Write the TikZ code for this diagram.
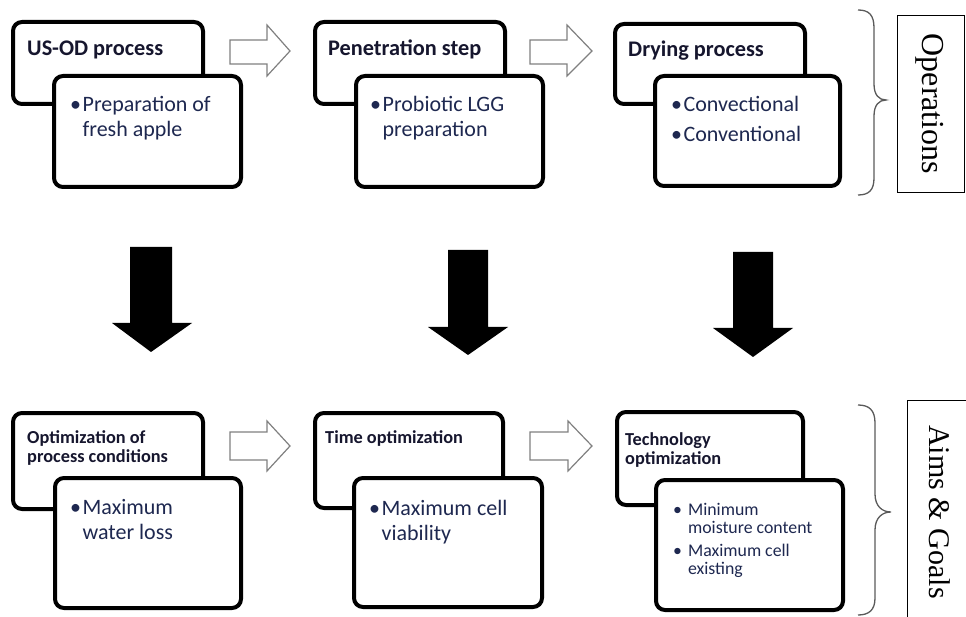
\documentclass[tikz,border=0pt]{standalone}
\usepackage{fontspec}
\setmainfont{Carlito}
\newfontfamily\serifbox{Liberation Serif}
\definecolor{titlecol}{HTML}{16162E}
\definecolor{bulletcol}{HTML}{1E2850}
\definecolor{bracecol}{HTML}{5A5A5A}
\definecolor{hollowcol}{HTML}{808080}
\begin{document}
\begin{tikzpicture}[x=1pt,y=-1pt,
  backbox/.style={draw=black,line width=4pt,rounded corners=9pt,fill=white,inner sep=0pt,outer sep=0pt,anchor=north west},
  frontbox/.style={backbox},
  toptitle/.style={anchor=base west,inner sep=0pt,text=titlecol,font=\fontsize{22.3}{25}\selectfont\bfseries},
  bottitle/.style={anchor=base west,inner sep=0pt,text=titlecol,font=\fontsize{18.3}{19}\selectfont\bfseries},
  bullets/.style={anchor=base west,inner sep=0pt,text=bulletcol,font=\fontsize{22}{25}\selectfont},
  smallbullets/.style={anchor=base west,inner sep=0pt,text=bulletcol,font=\fontsize{17.8}{18}\selectfont},
  hollow/.style={draw=hollowcol,line width=1.2pt,fill=white,line join=miter},
  solid/.style={fill=black},
  brace/.style={draw=bracecol,line width=1.3pt},
  sidebox/.style={draw=black,line width=1pt,fill=white},
  sidetext/.style={inner sep=0pt,rotate=-90,text=black}
]
\useasboundingbox (0,0) rectangle (966,617);

% ---------- top row ----------
\node[backbox,minimum width=190pt,minimum height=82pt] (b1) at (13,22) {};
\node[toptitle] (t1) at (27,56) {US-OD process};
\node[frontbox,minimum width=187pt,minimum height=111pt] (f1) at (54,76) {};
\node[bullets] (l1) at (70,112) {\begin{tabular}[t]{@{}l@{\hspace{1.5pt}}l@{}}\textbullet & Preparation of\\ & fresh apple\end{tabular}};

\node[backbox,minimum width=190pt,minimum height=82pt] (b2) at (315,22) {};
\node[toptitle] (t2) at (328,56) {Penetration step};
\node[frontbox,minimum width=187pt,minimum height=111pt] (f2) at (356,76) {};
\node[bullets] (l2) at (370,112) {\begin{tabular}[t]{@{}l@{\hspace{1.5pt}}l@{}}\textbullet & Probiotic LGG\\ & preparation\end{tabular}};

\node[backbox,minimum width=190pt,minimum height=80pt] (b3) at (615,24) {};
\node[toptitle] (t3) at (628,57) {Drying process};
\node[frontbox,minimum width=185pt,minimum height=110pt] (f3) at (655,76) {};
\node[bullets] (l3) at (671,112) {\begin{tabular}[t]{@{}l@{\hspace{1.5pt}}l@{}}\textbullet & Convectional\\[5pt] \textbullet & Conventional\end{tabular}};

% hollow arrows top
\draw[hollow] (230,40) -- (267,40) -- (267,25) -- (290,51) -- (267,76) -- (267,64) -- (230,64) -- cycle;
\draw[hollow] (530,40) -- (567,40) -- (567,25) -- (592,51) -- (567,76) -- (567,64) -- (530,64) -- cycle;

% brace + Operations
\draw[brace] (858,10) .. controls (869,10) and (874,15) .. (874,28) -- (874,84) .. controls (874,95) and (879,100) .. (886,100) .. controls (879,100) and (874,105) .. (874,116) -- (874,178) .. controls (874,190) and (869,195) .. (858,195);
\node[sidebox,minimum width=67pt,minimum height=177pt,anchor=north west,inner sep=0pt] (ops) at (897,15) {};
\node[sidetext,font=\serifbox\fontsize{32}{32}\selectfont] (opst) at (930,104) {Operations};

% ---------- black down arrows ----------
\fill[solid] (130,247) -- (172,247) -- (172,323) -- (192,323) -- (151,352) -- (112,323) -- (130,323) -- cycle;
\fill[solid] (448,250) -- (488,250) -- (488,327) -- (508,327) -- (468,355) -- (428,327) -- (448,327) -- cycle;
\fill[solid] (733,252) -- (773,252) -- (773,328) -- (793,328) -- (753,357) -- (713,328) -- (733,328) -- cycle;

% ---------- bottom row ----------
\node[backbox,minimum width=190pt,minimum height=96pt] (b4) at (13,413) {};
\node[bottitle] (t4) at (27,443) {\begin{tabular}[t]{@{}l@{}}Optimization of\\ process conditions\end{tabular}};
\node[frontbox,minimum width=186pt,minimum height=130pt] (f4) at (55,478) {};
\node[bullets] (l4) at (70,514) {\begin{tabular}[t]{@{}l@{\hspace{1.5pt}}l@{}}\textbullet & Maximum\\ & water loss\end{tabular}};

\node[backbox,minimum width=188pt,minimum height=95pt] (b5) at (315,413) {};
\node[bottitle] (t5) at (325,443) {Time optimization};
\node[frontbox,minimum width=188pt,minimum height=129pt] (f5) at (354,478) {};
\node[bullets] (l5) at (369,515) {\begin{tabular}[t]{@{}l@{\hspace{1.5pt}}l@{}}\textbullet & Maximum cell\\ & viability\end{tabular}};

\node[backbox,minimum width=186pt,minimum height=93pt] (b6) at (617,412) {};
\node[bottitle] (t6) at (625,445) {\begin{tabular}[t]{@{}l@{}}Technology\\ optimization\end{tabular}};
\node[frontbox,minimum width=187pt,minimum height=130pt] (f6) at (656,480) {};
\node[smallbullets] (l6) at (673,515) {\begin{tabular}[t]{@{}l@{\hspace{6pt}}l@{}}\textbullet & Minimum\\ & moisture content\\[5pt] \textbullet & Maximum cell\\ & existing\end{tabular}};

% hollow arrows bottom
\draw[hollow] (230,432) -- (267,432) -- (267,421) -- (290,446) -- (267,471) -- (267,460) -- (230,460) -- cycle;
\draw[hollow] (530,432) -- (568,432) -- (568,421) -- (592,446) -- (568,471) -- (568,460) -- (530,460) -- cycle;

% brace + Aims & Goals
\draw[brace] (858,405) .. controls (869,405) and (875,410) .. (875,423) -- (875,494) .. controls (875,506) and (882,512) .. (891,512) .. controls (882,512) and (875,518) .. (875,530) -- (875,598) .. controls (875,610) and (869,615) .. (858,615);
\node[sidebox,minimum width=80pt,minimum height=240pt,anchor=north west,inner sep=0pt] (aims) at (907,400) {};
\node[sidetext,font=\serifbox\fontsize{30}{30}\selectfont] (aimst) at (940,512) {Aims \& Goals};
\end{tikzpicture}
\end{document}
